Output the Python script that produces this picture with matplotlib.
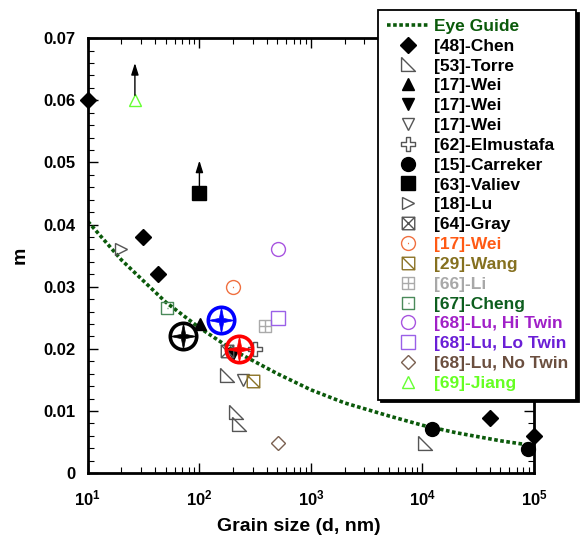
"""Strain-rate sensitivity m vs grain size, literature compilation with eye guide."""

import matplotlib
matplotlib.use("Agg")
import matplotlib.pyplot as plt
from matplotlib.path import Path
from matplotlib.ticker import LogLocator, MultipleLocator, NullFormatter
import numpy as np

plt.rcParams["font.family"] = ["Liberation Sans", "DejaVu Sans"]
plt.rcParams["font.weight"] = "bold"
plt.rcParams["mathtext.fontset"] = "custom"
plt.rcParams["mathtext.rm"] = "Liberation Sans:bold"
plt.rcParams["mathtext.bf"] = "Liberation Sans:bold"
plt.rcParams["mathtext.it"] = "Liberation Sans:bold"

# ---- data ---------------------------------------------------------------
GUIDE_D = [10, 20, 50, 100, 200, 500, 1000, 2000, 5000, 1e4, 2e4, 5e4, 1e5]
GUIDE_M = [0.0405, 0.0343, 0.0275, 0.0234, 0.0198, 0.0160, 0.0134,
           0.0113, 0.0092, 0.0077, 0.0065, 0.0052, 0.0044]

CHEN_D = [10, 31, 42.5, 40000, 100000]
CHEN_M = [0.060, 0.038, 0.032, 0.0088, 0.0059]
TORRE_D = [175, 215, 228, 10500]
TORRE_M = [0.0158, 0.0099, 0.0079, 0.0048]
WEI_UP_D = [102]
WEI_UP_M = [0.0240]
WEI_DN_D = [199]
WEI_DN_M = [0.0192]
WEI_OPEN_D = [247]
WEI_OPEN_M = [0.0150]
ELMUSTAFA_D = [315]
ELMUSTAFA_M = [0.0200]
CARREKER_D = [12200, 88000]
CARREKER_M = [0.0071, 0.0039]
VALIEV_D = [100]
VALIEV_M = [0.0450]
LU18_D = [20]
LU18_M = [0.0360]
GRAY_D = [177]
GRAY_M = [0.0197]
WEI_OR_D = [200]
WEI_OR_M = [0.0300]
WANG_D = [304]
WANG_M = [0.0148]
LI_D = [387]
LI_M = [0.0236]
CHENG_D = [51]
CHENG_M = [0.0265]
LU_HI_D = [502]
LU_HI_M = [0.0360]
LU_LO_D = [502]
LU_LO_M = [0.0250]
LU_NO_D = [502]
LU_NO_M = [0.0049]
JIANG_D = [26.4]
JIANG_M = [0.0600]

# highlighted points (circled stars)
HIGHLIGHT_D = [70.6, 155, 226]
HIGHLIGHT_M = [0.0220, 0.0246, 0.0199]
HIGHLIGHT_C = ["black", "blue", "red"]

# lower-bound arrows: (d, m) of marker and arrow length in m
ARROW_D = [JIANG_D[0], VALIEV_D[0]]
ARROW_M = [JIANG_M[0], VALIEV_M[0]]
ARROW_LEN = [0.0060, 0.0053]

Y_TICKS = [0, 0.01, 0.02, 0.03, 0.04, 0.05, 0.06, 0.07]
Y_TICKLABELS = ["0", "0.01", "0.02", "0.03", "0.04", "0.05", "0.06", "0.07"]

# ---- custom marker paths -------------------------------------------------
M, L = Path.MOVETO, Path.LINETO
SQ = [(-1, -1), (1, -1), (1, 1), (-1, 1), (-1, -1)]
SQ_CODES = [M, L, L, L, L]

RIGHT_TRI = Path([(-1, 1), (-1, -1), (1, -1), (-1, 1)], [M, L, L, L])
SQ_X = Path(SQ + [(-1, -1), (1, 1), (-1, 1), (1, -1)], SQ_CODES + [M, L, M, L])
SQ_DIAG = Path(SQ + [(-1, 1), (1, -1)], SQ_CODES + [M, L])
SQ_PLUS = Path(SQ + [(0, -1), (0, 1), (-1, 0), (1, 0)], SQ_CODES + [M, L, M, L])
SQ_DOT = Path(SQ + [(-0.08, 0), (0.08, 0)], SQ_CODES + [M, L])
CIRC_DOT = Path.unit_circle()
CIRC_DOT = Path(np.vstack([CIRC_DOT.vertices, [(-0.08, 0), (0.08, 0)]]),
                list(CIRC_DOT.codes) + [M, L])
a, b = 1.0, 0.35
CROSS = Path([(-b, a), (b, a), (b, b), (a, b), (a, -b), (b, -b), (b, -a),
              (-b, -a), (-b, -b), (-a, -b), (-a, b), (-b, b), (-b, a)])
s = 0.16
STAR4 = Path([(0, 1), (s, s), (1, 0), (s, -s), (0, -1), (-s, -s), (-1, 0),
              (-s, s), (0, 1)])

SERIES = [
    ("[48]-Chen", CHEN_D, CHEN_M, "D", "black", "black", 8, "black"),
    ("[53]-Torre", TORRE_D, TORRE_M, RIGHT_TRI, "none", "#555555", 10, "black"),
    ("[17]-Wei", WEI_UP_D, WEI_UP_M, "^", "black", "black", 9, "black"),
    ("[17]-Wei", WEI_DN_D, WEI_DN_M, "v", "black", "black", 9, "black"),
    ("[17]-Wei", WEI_OPEN_D, WEI_OPEN_M, "v", "none", "#555555", 9, "black"),
    ("[62]-Elmustafa", ELMUSTAFA_D, ELMUSTAFA_M, CROSS, "none", "#555555", 10, "black"),
    ("[15]-Carreker", CARREKER_D, CARREKER_M, "o", "black", "black", 10, "black"),
    ("[63]-Valiev", VALIEV_D, VALIEV_M, "s", "black", "black", 10, "black"),
    ("[18]-Lu", LU18_D, LU18_M, ">", "none", "#555555", 9, "black"),
    ("[64]-Gray", GRAY_D, GRAY_M, SQ_X, "none", "#555555", 9, "black"),
    ("[17]-Wei", WEI_OR_D, WEI_OR_M, CIRC_DOT, "none", "#f07040", 10, "#ff5a14"),
    ("[29]-Wang", WANG_D, WANG_M, SQ_DIAG, "none", "#8b7326", 9, "#85701f"),
    ("[66]-Li", LI_D, LI_M, SQ_PLUS, "none", "#aaaaaa", 9, "#a8a8a8"),
    ("[67]-Cheng", CHENG_D, CHENG_M, SQ_DOT, "none", "#4a8a5a", 9, "#0d5e1e"),
    ("[68]-Lu, Hi Twin", LU_HI_D, LU_HI_M, "o", "none", "#a855e0", 10, "#a020c8"),
    ("[68]-Lu, Lo Twin", LU_LO_D, LU_LO_M, "s", "none", "#9a60e8", 10, "#6a1ed6"),
    ("[68]-Lu, No Twin", LU_NO_D, LU_NO_M, "D", "none", "#7a6050", 7, "#6b4f3f"),
    ("[69]-Jiang", JIANG_D, JIANG_M, "^", "none", "#66ff33", 9, "#66ff22"),
]


def main():
    fig = plt.figure(figsize=(5.82, 5.37), dpi=100)
    ax = fig.add_axes([0.151, 0.119, 0.7665, 0.810])

    guide, = ax.plot(GUIDE_D, GUIDE_M, color="#0b5a0b", lw=2.6,
                     ls=(0, (1, 0.7)), zorder=2, label="Eye Guide")
    handles = [guide]
    text_colors = ["#0b5a0b"]
    for label, d, m, marker, fc, ec, ms, tc in SERIES:
        h, = ax.plot(d, m, ls="none", marker=marker, mfc=fc, mec=ec, ms=ms,
                     mew=1.0, clip_on=False, zorder=3, label=label)
        handles.append(h)
        text_colors.append(tc)

    for d, m, c in zip(HIGHLIGHT_D, HIGHLIGHT_M, HIGHLIGHT_C):
        ax.plot([d], [m], ls="none", marker="o", mfc="none", mec=c, ms=19,
                mew=2.6, zorder=5)
        ax.plot([d], [m], ls="none", marker=STAR4, mfc=c, mec=c, ms=19,
                mew=0.5, zorder=5)

    for d, m, dl in zip(ARROW_D, ARROW_M, ARROW_LEN):
        ax.annotate("", xy=(d, m + dl), xytext=(d, m + 0.0008),
                    arrowprops=dict(arrowstyle="-|>,head_length=0.7,head_width=0.22",
                                    color="black", lw=1.0, shrinkA=0, shrinkB=0),
                    zorder=4)

    ax.set_xscale("log")
    ax.set_xlim(10, 1e5)
    ax.set_ylim(0, 0.07)
    ax.set_yticks(Y_TICKS)
    ax.set_yticklabels(Y_TICKLABELS)
    ax.yaxis.set_minor_locator(MultipleLocator(0.002))
    ax.xaxis.set_minor_locator(LogLocator(base=10, subs=np.arange(2, 10)))
    ax.xaxis.set_minor_formatter(NullFormatter())
    ax.tick_params(which="both", direction="in", top=True, right=True,
                   labelsize=12)
    ax.tick_params(which="major", length=7, width=1.0)
    ax.tick_params(axis="x", which="major", pad=11)
    ax.tick_params(axis="y", which="major", pad=9)
    ax.tick_params(which="minor", length=4, width=0.8)
    for sp in ax.spines.values():
        sp.set_linewidth(2.0)

    ax.set_xlabel("Grain size (d, nm)", fontsize=14, fontweight="bold")
    ax.xaxis.set_label_coords(0.472, -0.103)
    ax.set_ylabel("m", fontsize=14, fontweight="bold")
    ax.yaxis.set_label_coords(-0.132, 0.5)

    leg = ax.legend(handles=handles, loc="upper left",
                    bbox_to_anchor=(0.6495, 0.9814), bbox_transform=fig.transFigure,
                    fontsize=12.5, frameon=True, fancybox=False,
                    shadow={"color": "black", "alpha": 1.0},
                    handlelength=2.4, handletextpad=0.3, labelspacing=0.27,
                    borderpad=0.5, borderaxespad=0)
    leg.get_frame().set_edgecolor("black")
    leg.get_frame().set_linewidth(1.3)
    leg.set_zorder(10)
    for txt, c in zip(leg.get_texts(), text_colors):
        txt.set_color(c)
        txt.set_fontweight("bold")

    fig.savefig("out.png", dpi=100)


if __name__ == "__main__":
    main()
